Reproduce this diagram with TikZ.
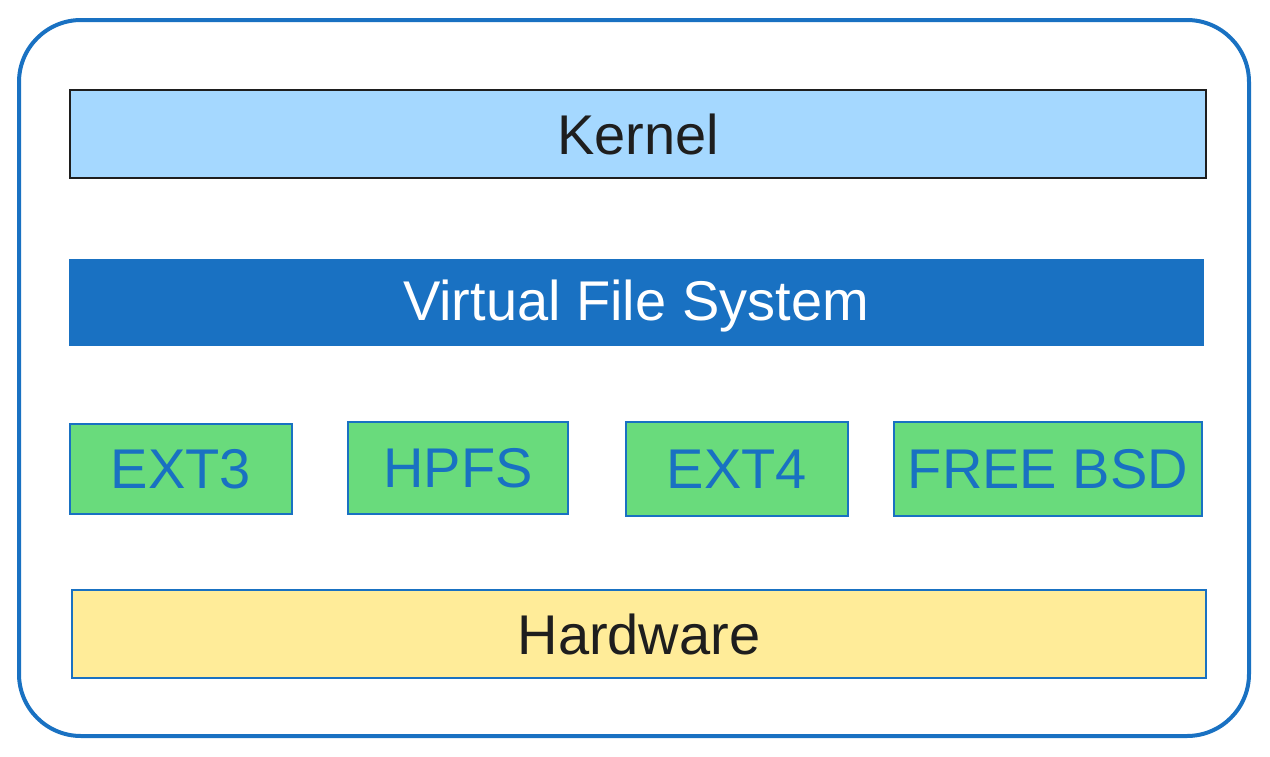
\documentclass[tikz,border=0pt]{standalone}
\usepackage{fontspec}
\setmainfont{Liberation Sans}
\definecolor{vfsblue}{HTML}{1971C2}
\definecolor{kernelblue}{HTML}{A5D8FF}
\definecolor{fsgreen}{HTML}{69DB7C}
\definecolor{hwyellow}{HTML}{FFEC99}
\definecolor{inkdark}{HTML}{1E1E1E}
\begin{document}
\begin{tikzpicture}[x=1pt,y=-1pt,
				thin,layer node/.style = {rectangle,draw, inner sep = 0pt, minimum width = 1134pt, minimum height = 88pt, font=\fontsize{56}{60}\selectfont},
				fs node/.style = {rectangle,draw=vfsblue,fill=fsgreen,text=vfsblue, line width=1.5pt, inner sep = 0pt, minimum height = 92pt, font=\fontsize{56}{60}\selectfont}]
				\useasboundingbox (0,0) rectangle (1270,756);
				
				\draw[vfsblue,line width=4pt,rounded corners=62pt] (19,20) rectangle (1249,736);
				
				\node[layer node,fill=kernelblue,draw=inkdark,line width=2pt,text=inkdark,minimum width=1136pt] (kernel) at (638,134) {Kernel};
				\node[layer node,fill=vfsblue,draw=vfsblue,text=white,minimum height=86pt,text depth=4pt] (vfs) at (636,302) {Virtual File System};
				\node[fs node,minimum width=222pt,minimum height=90pt] (ext3) at (181,469) {EXT3};
				\node[fs node,minimum width=220pt] (hpfs) at (458,468) {HPFS};
				\node[fs node,minimum width=222pt,minimum height=94pt] (ext4) at (737,469) {EXT4};
				\node[fs node,minimum width=308pt,minimum height=94pt] (bsd) at (1048,469) {FREE BSD};
				\node[layer node,fill=hwyellow,draw=vfsblue,line width=1.5pt,text=inkdark] (hw) at (639,634) {Hardware};
\end{tikzpicture}
\end{document}
